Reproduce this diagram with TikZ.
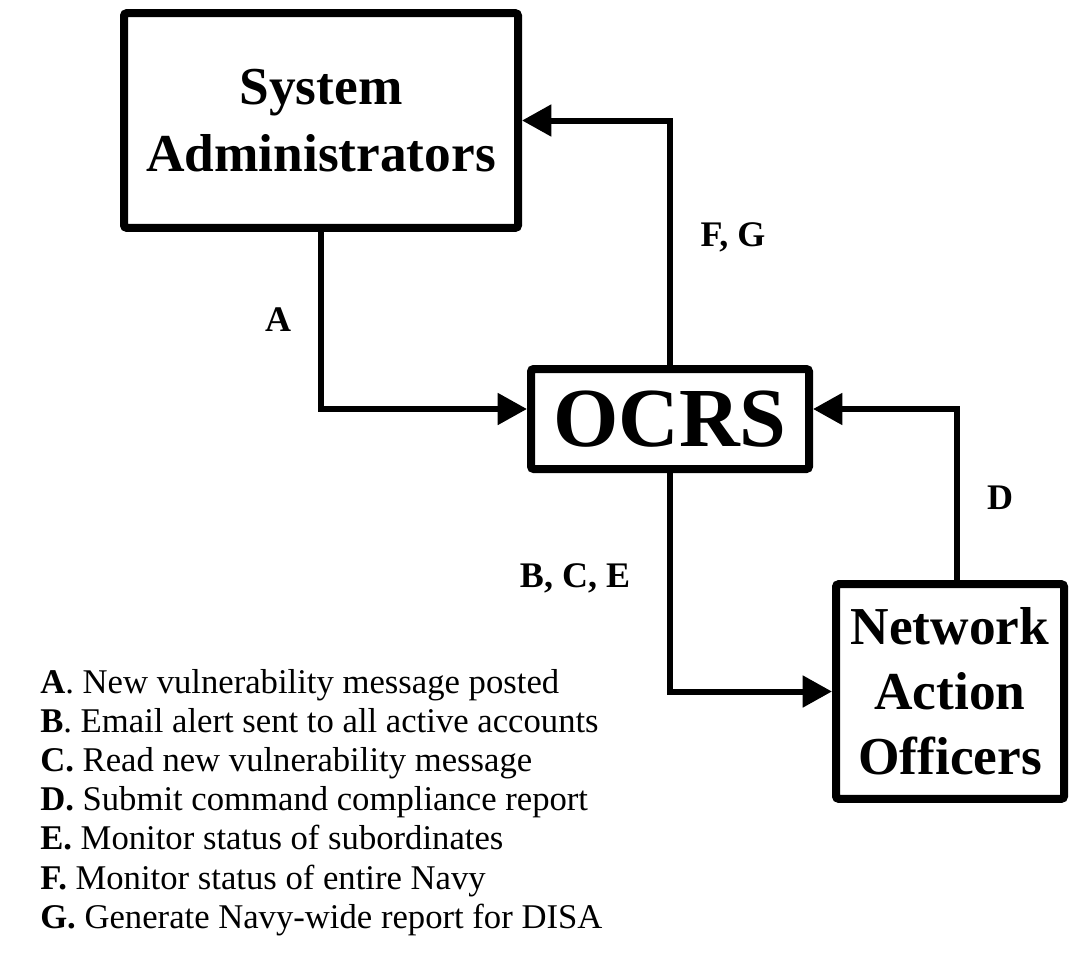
\documentclass[tikz,border=0pt]{standalone}
\usepackage{fontspec}
\setmainfont{Liberation Serif}
\usetikzlibrary{arrows.meta}
\tikzset{
  box/.style={draw, line width=6pt, rounded corners=2pt, align=center,
    font=\fontsize{40}{50}\selectfont\bfseries},
  flow/.style={line width=4.5pt, -{Triangle[length=22pt,width=23pt]}},
  tag/.style={font=\fontsize{27}{32}\selectfont\bfseries},
  item/.style={anchor=base west, inner sep=0pt, font=\fontsize{26}{29.4}\selectfont},
}
\begin{document}
\begin{tikzpicture}[x=0.75pt,y=-0.75pt]
\useasboundingbox (0,0) rectangle (1073,967);
% the three parties
\node [box, minimum width=295.5pt, minimum height=161pt] (sa) at (321,120.5) {System\\Administrators};
\node [box, minimum width=208.5pt, minimum height=75pt, font=\fontsize{63}{70}\selectfont\bfseries] (ocrs) at (670,419) {OCRS};
\node [box, minimum width=171pt, minimum height=161pt, font=\fontsize{40}{48.75}\selectfont\bfseries] (nao) at (950,691.5) {Network\\Action\\Officers};
% flows
\draw [flow] (sa.south) |- ([yshift=7.5pt]ocrs.west);
\draw [flow] (ocrs.north) |- (sa.east);
\draw [flow] ([xshift=5.5pt]nao.north) |- ([yshift=7.5pt]ocrs.east);
\draw [flow] (ocrs.south) |- (nao.west);
\node [tag] (fa) at (278,320) {A};
\node [tag] (ffg) at (733,237) {F, G};
\node [tag] (fd) at (1000,498) {D};
\node [tag] (fbce) at (575,578) {B, C, E};
% legend
\foreach \t [count=\i] in {{\textbf{A}. New vulnerability message posted},
    {\textbf{B}. Email alert sent to all active accounts},
    {\textbf{C.} Read new vulnerability message},
    {\textbf{D.} Submit command compliance report},
    {\textbf{E.} Monitor status of subordinates},
    {\textbf{F.} Monitor status of entire Navy},
    {\textbf{G.} Generate Navy-wide report for DISA}}
  \node [item] (item\i) at (40,653.8+39.2*\i) {\t};
\end{tikzpicture}
\end{document}
